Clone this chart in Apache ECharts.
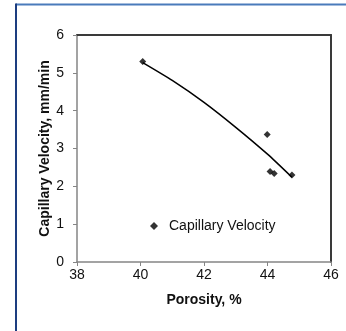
<!DOCTYPE html>
<html><head><meta charset="utf-8">
<script src="https://cdn.jsdelivr.net/npm/echarts@6/dist/echarts.min.js"></script>
<style>html,body{margin:0;padding:0;background:#fff}#c{width:346px;height:331px}</style>
</head><body><div id="c"></div>
<script>
var porosity = [40.07, 43.99, 44.08, 44.21, 44.77];
var velocity = [5.30, 3.37, 2.39, 2.34, 2.30];
var trendX = [40.07, 41, 42, 43, 44, 44.77];
var trendY = [5.27, 4.80, 4.22, 3.56, 2.85, 2.24];
var xTicks = [38, 40, 42, 44, 46];
var yTicks = [0, 1, 2, 3, 4, 5, 6];
var seriesName = 'Capillary Velocity';
var xTitle = 'Porosity, %';
var yTitle = 'Capillary Velocity, mm/min';

var chart = echarts.init(document.getElementById('c'), null, {renderer: 'canvas'});
var font = 'Liberation Sans, Arial, sans-serif';
chart.setOption({
  animation: false,
  textStyle: {fontFamily: font, fontSize: 14, color: '#111'},
  graphic: [{
    type: 'line', shape: {x1: 16, y1: 4.5, x2: 346, y2: 4.5},
    style: {stroke: '#4a7bbb', lineWidth: 2}, z: 0
  }, {
    type: 'line', shape: {x1: 16, y1: 3.5, x2: 16, y2: 331},
    style: {stroke: '#1d3d80', lineWidth: 2}, z: 0
  }],
  grid: {left: 77, right: 15, top: 35, bottom: 69, containLabel: false},
  legend: {
    data: [{name: seriesName, icon: 'diamond'}],
    left: 145, top: 214, itemWidth: 8, itemHeight: 8, itemGap: 6,
    textStyle: {fontFamily: font, fontSize: 14, color: '#111', padding: [0,0,0,6]}
  },
  xAxis: [{
    type: 'value', min: xTicks[0], max: xTicks[xTicks.length-1], interval: 2,
    name: xTitle, nameLocation: 'middle', nameGap: 31, nameMoveOverlap: false,
    nameTextStyle: {fontFamily: font, fontSize: 14, fontWeight: 'bold', color: '#111'},
    axisLine: {onZero: false, lineStyle: {color: '#858585', width: 1.5}},
    axisTick: {show: true, length: 4, lineStyle: {color: '#858585'}},
    axisLabel: {fontFamily: font, fontSize: 14, color: '#111', margin: 6},
    splitLine: {show: false}
  }, {
    type: 'value', position: 'top', min: xTicks[0], max: xTicks[xTicks.length-1],
    axisLine: {show: true, onZero: false, lineStyle: {color: '#3a3a3a', width: 2}},
    axisTick: {show: false}, axisLabel: {show: false}, splitLine: {show: false}
  }],
  yAxis: [{
    type: 'value', min: yTicks[0], max: yTicks[yTicks.length-1], interval: 1,
    name: yTitle, nameLocation: 'middle', nameGap: 25, nameRotate: 90, nameMoveOverlap: false,
    nameTextStyle: {fontFamily: font, fontSize: 14, fontWeight: 'bold', color: '#111'},
    axisLine: {show: true, onZero: false, lineStyle: {color: '#858585', width: 1.5}},
    axisTick: {show: true, length: 4, lineStyle: {color: '#858585'}},
    axisLabel: {fontFamily: font, fontSize: 14, color: '#111', margin: 13},
    splitLine: {show: false}
  }, {
    type: 'value', position: 'right', min: yTicks[0], max: yTicks[yTicks.length-1],
    axisLine: {show: true, onZero: false, lineStyle: {color: '#3a3a3a', width: 2}},
    axisTick: {show: false}, axisLabel: {show: false}, splitLine: {show: false}
  }],
  series: [{
    name: seriesName, type: 'scatter', symbol: 'diamond', symbolSize: 7,
    itemStyle: {color: '#000'},
    data: porosity.map(function(x, i){ return [x, velocity[i]]; }), z: 3
  }, {
    name: 'trend', type: 'line', smooth: 0.2, symbol: 'none',
    lineStyle: {color: '#000', width: 1.5},
    data: trendX.map(function(x, i){ return [x, trendY[i]]; }), z: 2
  }]
});
</script></body></html>
